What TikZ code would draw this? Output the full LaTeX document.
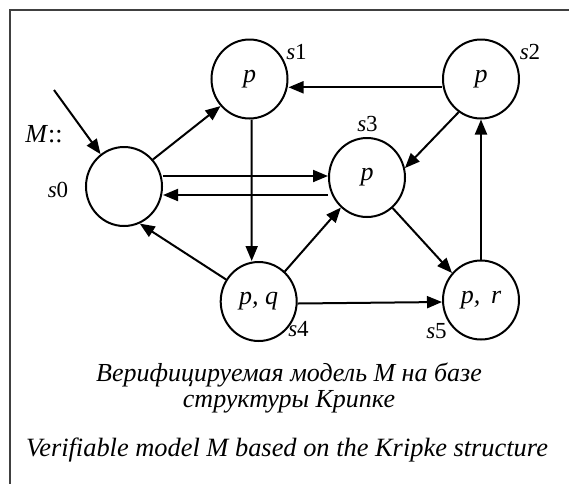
\documentclass[tikz,border=0pt]{standalone}
\usepackage{fontspec}
\setmainfont{Liberation Serif}
\usetikzlibrary{shapes.geometric,arrows.meta}
\begin{document}
\begin{tikzpicture}[x=0.5pt,y=-0.5pt,
  state/.style={ellipse,draw,line width=1pt,minimum width=38pt,minimum height=39.5pt,
    inner sep=0pt,font=\fontsize{13}{15}\selectfont\itshape},
  lbl/.style={font=\fontsize{11.5}{13}\selectfont,inner sep=0pt},
  arr/.style={line width=1pt,-{Triangle[length=7.5pt,width=6pt]}},
  captext/.style={font=\fontsize{13}{13}\selectfont\itshape,inner sep=0pt,align=center}]
\useasboundingbox (0,0) rectangle (569,484);
% open frame: top and left edges only
\draw[line width=1pt,black!75] (569,10) -- (10,10) -- (10,484);

% states of the Kripke structure
\node[state] (s0) at (124,186.5) {};
\node[state] (s1) at (249.5,79) {p};
\node[state] (s2) at (481,79) {p};
\node[state] (s3) at (367,177.5) {p};
\node[state] (s4) at (258.7,301.5) {p, q};
\node[state] (s5) at (481,300) {p,\, r};

% state names
\node[lbl] (l0) at (58,190) {\textit{s}0};
\node[lbl] (l1) at (296.5,52) {\textit{s}1};
\node[lbl] (l2) at (530,52) {\textit{s}2};
\node[lbl] (l3) at (367.5,124) {\textit{s}3};
\node[lbl] (l4) at (298.5,329.5) {\textit{s}4};
\node[lbl] (l5) at (436.5,331.5) {\textit{s}5};
\node[lbl,font=\fontsize{13}{15}\selectfont] (mm) at (44,134) {\textit{M}::};

% initial-state arrow
\coordinate (init) at (54,90);
\draw[arr] (init) -- (s0);

% transitions
\draw[arr] (s0.43) -- (s1.223);
\draw[arr] ([yshift=-4.15pt]s2.west) -- ([yshift=-4.15pt]s1.east);
\draw[arr] (s2.236) -- (s3.14);
\draw[arr] ([yshift=5.25pt]s0.east) -- ([yshift=0.75pt]s3.west);
\draw[arr] ([yshift=-8.75pt]s3.west) -- ([yshift=-4.25pt]s0.east);
\draw[arr] ([xshift=1.1pt]s1.south) -- ([xshift=-3.5pt]s4.north);
\draw[arr] (s4.146) -- (s0.293);
\draw[arr] (s4.49.5) -- (s3.229);
\draw[arr] (s3.310) -- (s5.137);
\draw[arr] ([yshift=-1pt]s4.east) -- ([yshift=-1pt]s5.west);
\draw[arr] (s5.north) -- (s2.south);

% captions
\node[captext] (c1) at (289,388) {Верифицируемая модель M на базе\\структуры Крипке};
\node[captext,font=\fontsize{13.2}{13}\selectfont\itshape] (c2) at (287,450) {Verifiable model M based on the Kripke structure};
\end{tikzpicture}
\end{document}
